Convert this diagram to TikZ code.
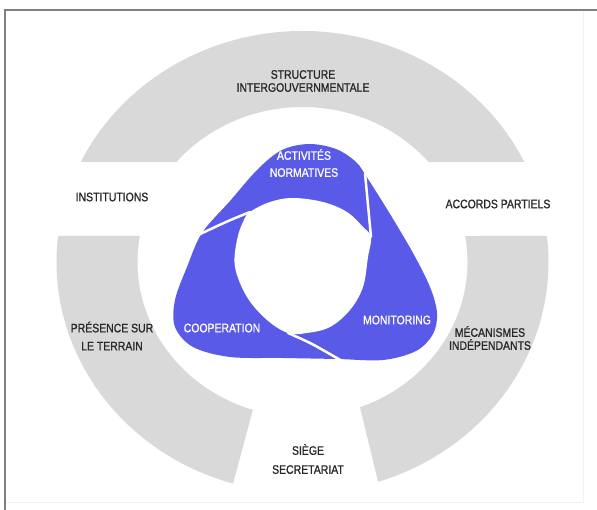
\documentclass[tikz,border=0pt]{standalone}
\usepackage{fontspec}
\setmainfont{Liberation Sans}[FakeStretch=0.85, FakeBold=1]
\usepackage{tikz}
\usetikzlibrary{calc}
\definecolor{ringgray}{RGB}{217,217,217}
\definecolor{blobblue}{RGB}{90,90,232}
\definecolor{txtgray}{RGB}{40,40,40}
\definecolor{framegray}{RGB}{128,128,128}

\begin{document}
\begin{tikzpicture}[x=1pt,y=-1pt,
    ring/.style={fill=ringgray},
    blob/.style={fill=blobblue},
    slit/.style={draw=white, line width=2.5pt, line cap=round},
    lbl/.style={text=txtgray, font=\fontsize{12.3}{13}\selectfont, align=center, inner sep=0pt},
    wlbl/.style={lbl, text=white}]
        \useasboundingbox (0,0) rectangle (597,510);
        \fill[white] (0,0) rectangle (597,510);
        \draw[gray!10, line width=1pt] (5,502) -- (583,502) -- (583,10);
        \draw[framegray, line width=2pt] (5,510) -- (5,10) -- (597,10);

        \coordinate (c) at (302.5,262);

        % grey ring
        \fill[ring] ($(c)+(-25.7:246 and 231)$) arc[start angle=-25.7, end angle=-154.3, x radius=246, y radius=231]
            -- ($(c)+(-139.8:165 and 155)$) arc[start angle=-139.8, end angle=-40.2, x radius=165, y radius=155] -- cycle;
        \fill[ring] ($(c)+(186.5:246 and 231)$) arc[start angle=186.5, end angle=106.4, x radius=246, y radius=231]
            -- ($(c)+(107.5:165 and 155)$) arc[start angle=107.5, end angle=189.7, x radius=165, y radius=155] -- cycle;
        \fill[ring] ($(c)+(-6.5:246 and 231)$) arc[start angle=-6.5, end angle=72.1, x radius=246, y radius=231]
            -- ($(c)+(69.6:165 and 155)$) arc[start angle=69.6, end angle=-9.65, x radius=165, y radius=155] -- cycle;

        % blue swirl
        \fill[blob] plot[smooth cycle, tension=0.55] coordinates {
            (309,144) (336,149) (356,162) (368,179) (390,214) (413,253) (430,287) (437,313)
            (433,334) (416,351) (383,360) (337,359) (283,358) (230,357) (193,347) (175,327)
            (175,300) (187,267) (202,233) (230,201) (258,169) (282,150)};
        \fill[white] plot[smooth cycle, tension=0.6] coordinates {
            (250,212) (270,202) (293,198) (323,202) (347,212) (363,227) (371,237) (368,257)
            (363,287) (350,310) (330,327) (307,333) (288,333) (267,320) (247,297) (235,267)
            (237,240) (243,222)};
        \draw[slit] plot[smooth] coordinates {(250,212) (226,222) (196,236)};
        \draw[slit] plot[smooth] coordinates {(371,237) (368,205) (365,173)};
        \draw[slit] plot[smooth] coordinates {(288,333) (312,344) (342,361)};

        \node[wlbl] (activ) at (304,163) {ACTIVITÉS\\[4pt]NORMATIVES};
        \node[wlbl] (coop) at (222,328) {COOPERATION};
        \node[wlbl] (monit) at (397,320) {MONITORING};

        \node[lbl] (struct) at (303,81) {STRUCTURE\\INTERGOUVERNMENTALE};
        \node[lbl] (inst) at (112,197) {INSTITUTIONS};
        \node[lbl] (accords) at (498,204) {ACCORDS PARTIELS};
        \node[lbl] (presence) at (112,336) {PRÉSENCE SUR\\[5pt]LE TERRAIN};
        \node[lbl] (meca) at (490,338) {MÉCANISMES\\INDÉPENDANTS};
        \node[lbl] (siege) at (308,459) {SIÈGE\\[6pt]SECRETARIAT};

    \end{tikzpicture}
\end{document}
